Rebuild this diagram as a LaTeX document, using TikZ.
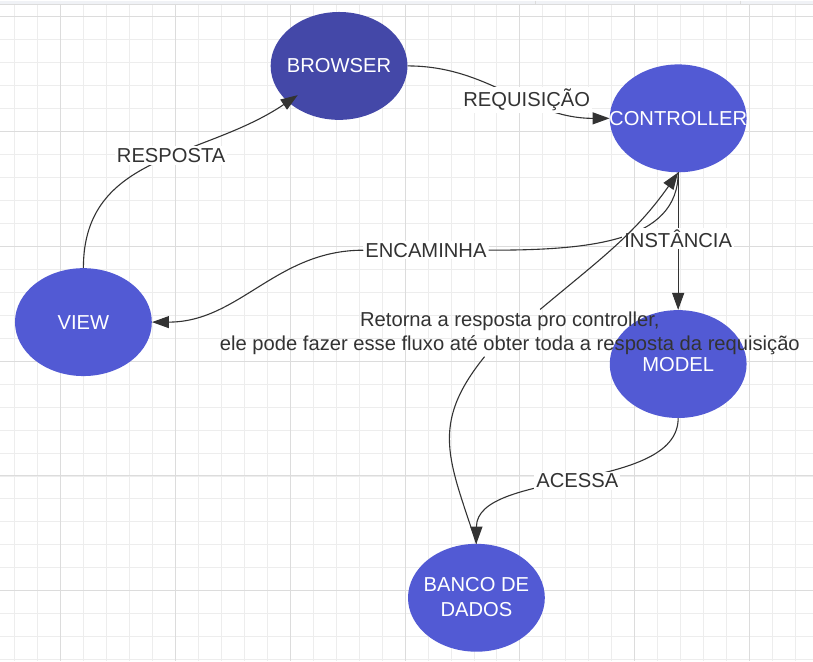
\documentclass[tikz,border=0pt]{standalone}
\usepackage{fontspec}
\setmainfont{Liberation Sans}
\usetikzlibrary{arrows.meta,positioning,shapes.geometric}
\definecolor{mvcdark}{HTML}{4448A8}
\definecolor{mvcblue}{HTML}{525AD4}
\definecolor{mvcline}{HTML}{333333}
\definecolor{mvctext}{HTML}{333333}
\definecolor{gridminor}{HTML}{EDEDED}
\definecolor{gridmajor}{HTML}{DCDCDC}
\definecolor{topbar}{HTML}{F0F2F6}
\tikzset{
  comp/.style={ellipse,fill=mvcblue,minimum width=137pt,minimum height=108pt,inner sep=0pt},
  compdark/.style={comp,fill=mvcdark},
  comptext/.style={text=white,align=center,inner sep=0pt,font=\fontsize{20.2}{25}\selectfont},
  ar/.style={-{Triangle[length=17pt,width=12pt]},draw=mvcline,line width=1.1pt},
  lbl/.style={fill=white,text=mvctext,inner sep=2pt,font=\fontsize{20.2}{24}\selectfont},
  note/.style={lbl,fill=none,align=center},
}

\begin{document}
\begin{tikzpicture}[x=1pt,y=1pt,on grid]
  % background grid
  \fill[white] (0,0) rectangle (813,-661);
  \foreach \x in {14,37,...,813} \draw[gridminor,line width=0.8pt] (\x,0) -- (\x,-661);
  \foreach \y in {-16,-39,...,-661} \draw[gridminor,line width=0.8pt] (0,\y) -- (813,\y);
  \foreach \x in {60,175,...,813} \draw[gridmajor,line width=1pt] (\x,0) -- (\x,-661);
  \foreach \y in {-16,-131,...,-661} \draw[gridmajor,line width=1pt] (0,\y) -- (813,\y);
  \fill[topbar] (0,0) rectangle (813,-4.5);
  \draw[gridmajor,line width=1pt] (0,-4.5) -- (813,-4.5) (536,0) -- (536,-4.5) (741,0) -- (741,-4.5);

  % components
  \node[compdark,label={[comptext]center:BROWSER}] (browser) at (339,-65.5) {};
  \node[comp,below right=52.5pt and 339.5pt of browser,label={[comptext]center:CONTROLLER}] (controller) {};
  \node[comp,below=246pt of controller,label={[comptext]center:MODEL}] (model) {};
  \node[comp,below left=234pt and 202pt of model,label={[comptext,yshift=1pt]center:BANCO DE\\DADOS}] (banco) {};
  \node[comp,below left=256.5pt and 256pt of browser,label={[comptext]center:VIEW}] (view) {};
  \node[note] (retorna) at (510,-333) {Retorna a resposta pro controller,\\ele pode fazer esse fluxo até obter toda a resposta da requisição};
  \node[lbl] (encaminha) at (426,-250) {ENCAMINHA};

  % flows
  \draw[ar] (browser.east) to[out=0,in=180] node[lbl,pos=.6] (requisicao) {REQUISIÇÃO} (controller.west);
  \draw[ar,shorten >=-12pt] (view.north) to[out=90,in=-146,out distance=115pt] node[lbl,pos=.57] (resposta) {RESPOSTA} (browser.-145);
  \draw[ar] (controller.south) to[out=-90,in=0,out distance=70pt,in distance=100pt] (encaminha)
    to[out=180,in=0] (view.east);
  \draw[ar] (controller.south) -- node[lbl,pos=.48] (instancia) {INSTÂNCIA} (model.north);
  \draw[ar] (model.south) to[out=-90,in=90,looseness=.8] node[lbl] (acessa) {ACESSA} (banco.north);
  \draw[ar] (banco.north) to[out=108,in=-129,looseness=1.2] (retorna.-137)
    (retorna.38) to[out=40,in=-125] (controller.south);
\end{tikzpicture}
\end{document}
